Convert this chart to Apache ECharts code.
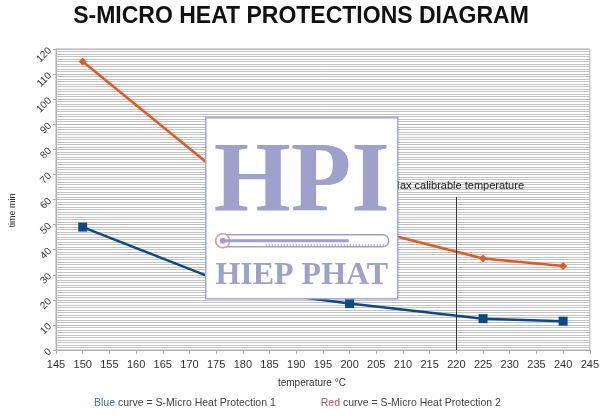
<!DOCTYPE html>
<html>
<head>
<meta charset="utf-8">
<script src="https://cdn.jsdelivr.net/npm/echarts@6/dist/echarts.min.js"></script>
<style>
html,body{margin:0;padding:0;background:#fff;}
#chart{width:602px;height:416px;}
</style>
</head>
<body>
<div id="chart"></div>
<script>
const temperatures = [150, 180, 200, 225, 240];
const protection1 = [49, 24, 18.5, 12.5, 11.5];
const protection2 = [115, 63, 50, 36.5, 33.5];
const seriesNames = ['S-Micro Heat Protection 1', 'S-Micro Heat Protection 2'];
const maxCalibrable = 220;
const maxCalibrableTop = 61;

const chart = echarts.init(document.getElementById('chart'));
const pairs = (xs, ys) => xs.map((x, i) => [x, ys[i]]);
const FONT = '"Liberation Sans", Arial, sans-serif';
const SERIF = '"Liberation Serif", "Times New Roman", serif';
const LOGO = '#9ea1cc';

chart.setOption({
  animation: false,
  backgroundColor: '#fff',
  title: {
    text: 'S-MICRO HEAT PROTECTIONS DIAGRAM',
    left: 'center',
    top: 0,
    textStyle: { fontSize: 23, fontWeight: 'bold', fontFamily: FONT, color: '#111' }
  },
  grid: { left: 54, right: 9, top: 49, bottom: 66, show: true, borderColor: '#b0b0b0', borderWidth: 1 },
  legend: {
    bottom: 2,
    left: 84,
    icon: 'none',
    itemWidth: 0,
    itemHeight: 10,
    itemGap: 40,
    selectedMode: false,
    data: seriesNames,
    formatter: function (name) {
      return name === seriesNames[0] ? '{b|Blue} curve = ' + name : '{r|Red} curve = ' + name;
    },
    textStyle: {
      fontSize: 10.5, color: '#444', fontFamily: FONT,
      rich: {
        b: { color: '#3d6fa8', fontSize: 10.5, fontFamily: FONT },
        r: { color: '#c0504d', fontSize: 10.5, fontFamily: FONT }
      }
    }
  },
  xAxis: {
    type: 'value',
    min: 145, max: 245, interval: 5,
    name: 'temperature °C',
    nameLocation: 'middle',
    nameGap: 28,
    nameTextStyle: { fontSize: 10, color: '#333', fontFamily: FONT, padding: [0, 22, 0, 0] },
    axisLine: { show: true, lineStyle: { color: '#b0b0b0' } },
    axisTick: { show: true, length: 4, lineStyle: { color: '#b0b0b0' } },
    axisLabel: { fontSize: 11, color: '#333', fontFamily: FONT, margin: 9 },
    splitLine: { show: false }
  },
  yAxis: {
    type: 'value',
    min: 0, max: 120, interval: 10,
    name: 'time min',
    nameLocation: 'middle',
    nameGap: 39,
    nameTextStyle: { fontSize: 9, color: '#333', fontFamily: FONT, padding: [0, 22, 0, 0] },
    axisLine: { show: true, lineStyle: { color: '#b0b0b0' } },
    axisTick: { show: true, length: 3, lineStyle: { color: '#b0b0b0' } },
    axisLabel: { fontSize: 10, color: '#333', fontFamily: FONT, rotate: 45, margin: 6 },
    splitLine: { show: true, lineStyle: { color: '#bdbdbd', width: 1 } },
    minorTick: { show: false, splitNumber: 10 },
    minorSplitLine: { show: true, lineStyle: { color: '#c4c4c4', width: 1 } }
  },
  series: [
    {
      name: seriesNames[0],
      type: 'line',
      data: pairs(temperatures, protection1),
      color: '#0d4a85',
      symbol: 'rect',
      symbolSize: 9,
      lineStyle: { width: 2.5, color: '#0d4a85' },
      itemStyle: { color: '#0d4a85' },
      z: 3
    },
    {
      name: seriesNames[1],
      type: 'line',
      data: pairs(temperatures, protection2),
      color: '#e05a22',
      symbol: 'diamond',
      symbolSize: 8,
      lineStyle: { width: 2.5, color: '#e05a22' },
      itemStyle: { color: '#e05a22' },
      z: 3,
      markLine: {
        silent: true,
        symbol: ['none', 'none'],
        lineStyle: { color: '#333', width: 1, type: 'solid' },
        label: {
          show: true,
          position: 'start',
          formatter: 'Max calibrable temperature',
          fontSize: 11,
          color: '#222',
          fontFamily: FONT,
          distance: 6,
          offset: [1, 0]
        },
        data: [[{ coord: [maxCalibrable, maxCalibrableTop] }, { coord: [maxCalibrable, 0] }]]
      }
    }
  ],
  graphic: [
    {
      type: 'group',
      left: 205,
      top: 117,
      z: 100,
      children: [
        { type: 'rect', z: 100, shape: { x: 0, y: 0, width: 192, height: 181 },
          style: { fill: '#fff', stroke: '#a4a7cf', lineWidth: 1.5 } },
        { type: 'text', z: 101, style: { text: 'HPI', x: 96, y: 67, textAlign: 'center', textVerticalAlign: 'middle',
          font: 'bold 99px ' + SERIF, fill: LOGO } },
        { type: 'rect', z: 101, shape: { x: 10, y: 117, width: 173, height: 12, r: 6 },
          style: { fill: '#fff', stroke: LOGO, lineWidth: 1.5 } },
        { type: 'circle', z: 102, shape: { cx: 17, cy: 123, r: 7 },
          style: { fill: '#fff', stroke: '#e3a08c', lineWidth: 1.5 } },
        { type: 'circle', z: 103, shape: { cx: 17, cy: 123, r: 3 },
          style: { fill: LOGO } },
        { type: 'rect', z: 103, shape: { x: 17, y: 121.5, width: 126, height: 3 },
          style: { fill: LOGO } },
        { type: 'line', z: 103, shape: { x1: 60, y1: 127.5, x2: 180, y2: 127.5 },
          style: { stroke: LOGO, lineWidth: 2, lineDash: [1, 2] } },
        { type: 'text', z: 101, style: { text: 'HIEP PHAT', x: 96, y: 158, textAlign: 'center', textVerticalAlign: 'middle',
          font: 'bold 32px ' + SERIF, fill: LOGO } }
      ]
    }
  ]
});
</script>
</body>
</html>
